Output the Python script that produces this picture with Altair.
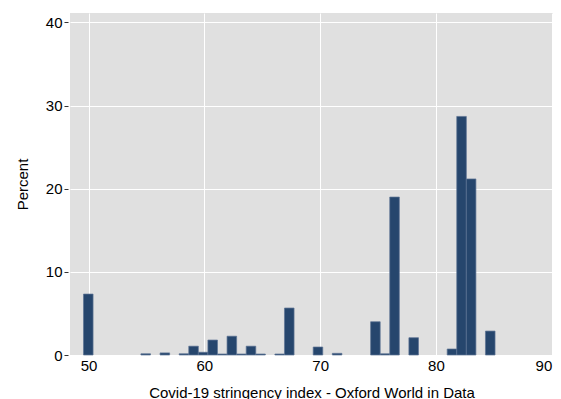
import altair as alt
import pandas as pd

# Histogram bins (left edges)
bin_left = [49.565, 54.524, 56.177, 57.830, 58.657, 59.483, 60.310, 61.136,
            61.963, 62.789, 63.616, 64.442, 66.095, 66.922, 69.401, 71.054,
            74.360, 75.187, 76.013, 77.666, 80.972, 81.799, 82.625, 84.278]
percent = [7.33, 0.15, 0.25, 0.15, 1.06, 0.33, 1.80, 0.12,
           2.26, 0.12, 1.06, 0.12, 0.12, 5.65, 0.96, 0.20,
           4.00, 0.15, 19.00, 2.08, 0.72, 28.70, 21.18, 2.88]
bin_width = 0.8265

x_ticks = [50, 60, 70, 80, 90]
y_ticks = [0, 10, 20, 30, 40]

df = pd.DataFrame({"x0": bin_left, "pct": percent})
df["x1"] = df["x0"] + bin_width

FONT = "Liberation Sans"

chart = alt.Chart(df).mark_rect(
    fill="#26466D", stroke="#5B7393", strokeWidth=0.7
).encode(
    x=alt.X("x0:Q",
            scale=alt.Scale(domain=[48.40, 90.11], nice=False, zero=False),
            axis=alt.Axis(values=x_ticks, title="Covid-19 stringency index - Oxford World in Data",
                          ticks=False, domain=False, labelPadding=3, titlePadding=12,
                          labelFlush=4,
                          grid=True, gridColor="white", gridWidth=1)),
    x2="x1:Q",
    y=alt.Y("pct:Q",
            scale=alt.Scale(domain=[0, 41.14], nice=False),
            axis=alt.Axis(values=y_ticks, title="Percent", tickSize=4, offset=2,
                          tickColor="#333333", domain=False, labelPadding=2,
                          titlePadding=15, grid=True, gridColor="white", gridWidth=1)),
    y2=alt.datum(0),
).properties(
    width=483, height=342,
    background="white",
    autosize=alt.AutoSizeParams(type="none"),
    padding={"left": 62, "top": 5, "right": 0, "bottom": 44},
).configure_view(
    fill="#E0E0E0", stroke="#E0E0E0", strokeWidth=0
).configure_axis(
    labelFont=FONT, titleFont=FONT, labelFontSize=15, titleFontSize=15,
    titleFontWeight="normal", labelColor="black", titleColor="black",
)

chart.save("out.html", embed_options={"renderer": "svg", "actions": False})
